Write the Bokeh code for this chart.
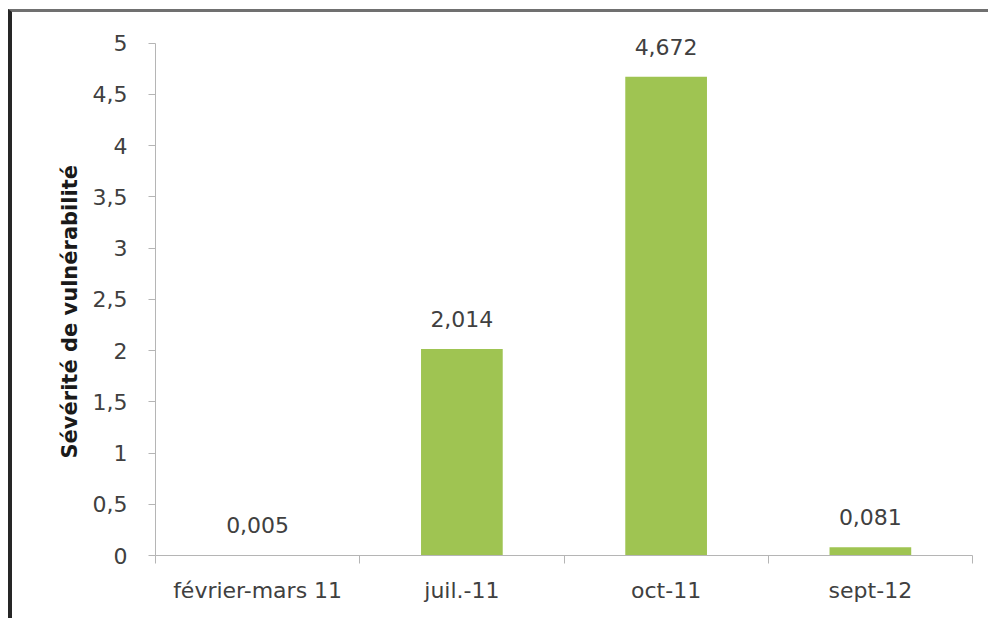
from bokeh.plotting import figure
from bokeh.models import ColumnDataSource, FixedTicker, CustomJSTickFormatter, LabelSet, Range1d, Title
from bokeh.core.properties import value
from bokeh.embed import file_html
from bokeh.resources import INLINE

categories = ["février-mars 11", "juil.-11", "oct-11", "sept-12"]
values = [0.005, 2.014, 4.672, 0.081]
value_labels = ["0,005", "2,014", "4,672", "0,081"]
y_ticks = [0, 0.5, 1, 1.5, 2, 2.5, 3, 3.5, 4, 4.5, 5]
y_tick_labels = ["0", "0,5", "1", "1,5", "2", "2,5", "3", "3,5", "4", "4,5", "5"]
y_title = "Sévérité de vulnérabilité"

x_centers = [i + 0.5 for i in range(len(categories))]
boundaries = list(range(len(categories) + 1))

src = ColumnDataSource(dict(x=x_centers, top=values, label=value_labels))

FONT = "DejaVu Sans"
AXIS_GRAY = "#B5B5B5"
TEXT = "#404040"

p = figure(width=980, height=609,
           x_range=Range1d(0, len(categories)), y_range=Range1d(y_ticks[0], 5.25),
           output_backend="svg", toolbar_location=None,
           min_border_left=143, min_border_right=20, min_border_top=5, min_border_bottom=66)
p.styles = {"margin-left": "8px", "margin-top": "9px",
            "border-left": "4px solid #262626", "border-top": "3px solid #707070"}

p.vbar(x="x", top="top", bottom=0, width=0.4, source=src,
       fill_color="#9FC452", line_color=None)

labels = LabelSet(x="x", y="top", text="label", source=src, y_offset=22,
                  text_align="center", text_baseline="alphabetic",
                  text_font=value(FONT), text_font_size=value("22px"), text_color=value(TEXT))
p.add_layout(labels)

p.xgrid.visible = False
p.ygrid.visible = False
p.outline_line_color = None

# y axis
yax = p.yaxis[0]
yax.bounds = (y_ticks[0], y_ticks[-1])
yax.ticker = FixedTicker(ticks=y_ticks)
yax.formatter = CustomJSTickFormatter(args=dict(tv=y_ticks, tl=y_tick_labels),
    code="const i = tv.indexOf(tick); return i >= 0 ? tl[i] : '';")
yax.axis_line_color = AXIS_GRAY
yax.major_tick_line_color = AXIS_GRAY
yax.major_tick_out = 7
yax.major_tick_in = 0
yax.minor_tick_line_color = None
yax.major_label_standoff = 21
yax.major_label_text_font = FONT
yax.major_label_text_font_size = "22px"
yax.major_label_text_color = TEXT

ytitle = Title(text=y_title, align="left", offset=97, standoff=16,
               text_font=FONT, text_font_style="bold", text_font_size="21px",
               text_color="#1a1a1a")
p.add_layout(ytitle, "left")

# x axis
xax = p.xaxis[0]
xax.ticker = FixedTicker(ticks=x_centers, minor_ticks=boundaries)
xax.formatter = CustomJSTickFormatter(args=dict(cats=categories),
    code="return cats[Math.floor(tick)];")
xax.axis_line_color = AXIS_GRAY
xax.major_tick_line_color = None
xax.major_tick_out = 0
xax.major_tick_in = 0
xax.minor_tick_line_color = AXIS_GRAY
xax.minor_tick_out = 8
xax.minor_tick_in = 0
xax.major_label_standoff = 14
xax.major_label_text_font = FONT
xax.major_label_text_font_size = "22px"
xax.major_label_text_color = TEXT

open("out.html", "w").write(file_html(p, INLINE))
